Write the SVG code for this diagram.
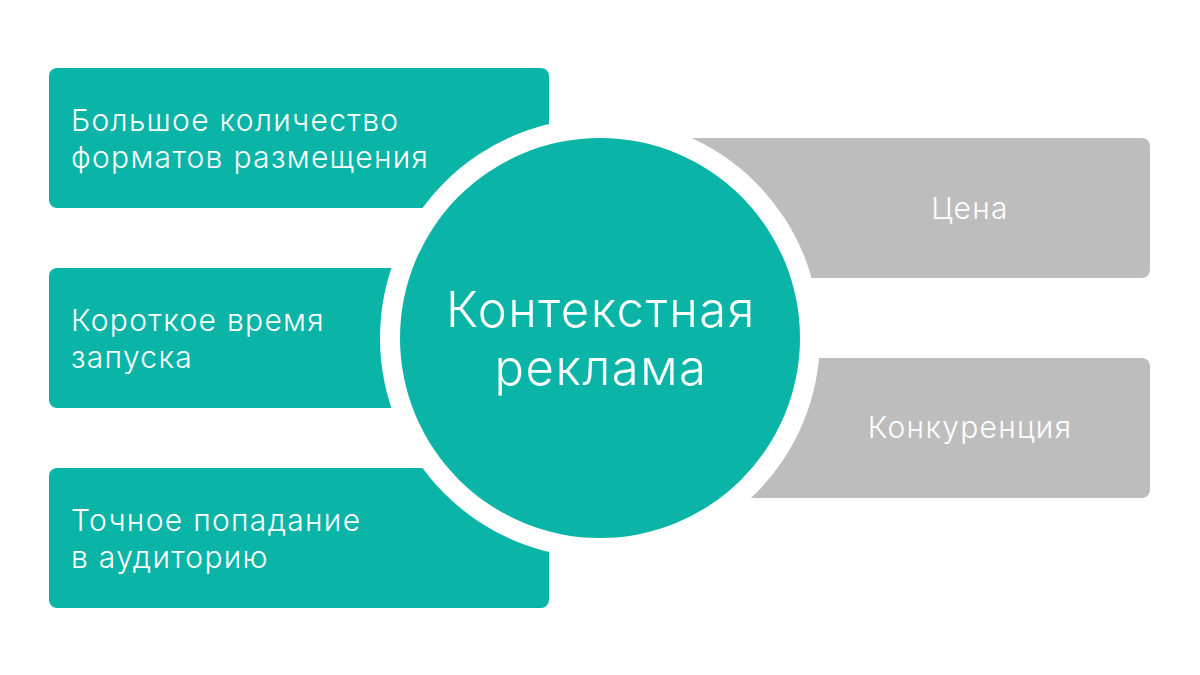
<svg xmlns="http://www.w3.org/2000/svg" width="1200" height="675" viewBox="0 0 1200 675">
  <style>
    .pro { fill: #0AB4A7; }
    .con { fill: #BDBDBD; }
    .lbl { font-family: Inter, "Open Sans", "Liberation Sans", sans-serif; font-weight: 300; font-size: 30px; letter-spacing: 1.3px; fill: #FFFFFF; }
    .ctr { font-family: Inter, "Open Sans", "Liberation Sans", sans-serif; font-weight: 300; font-size: 49px; letter-spacing: 1.5px; fill: #FFFFFF; text-anchor: middle; }
  </style>
  <rect width="1200" height="675" fill="#FFFFFF"/>
  <g id="node-formats">
    <rect class="pro" x="49" y="68" width="500" height="140" rx="8"/>
    <text class="lbl" x="71" y="131">Большое количество</text>
    <text class="lbl" x="71" y="168">форматов размещения</text>
  </g>
  <g id="node-launch">
    <rect class="pro" x="49" y="268" width="500" height="140" rx="8"/>
    <text class="lbl" x="71" y="331">Короткое время</text>
    <text class="lbl" x="71" y="368">запуска</text>
  </g>
  <g id="node-targeting">
    <rect class="pro" x="49" y="468" width="500" height="140" rx="8"/>
    <text class="lbl" x="71" y="531">Точное попадание</text>
    <text class="lbl" x="71" y="568">в аудиторию</text>
  </g>
  <g id="node-price">
    <rect class="con" x="650" y="138" width="500" height="140" rx="8"/>
    <text class="lbl" x="970" y="219" text-anchor="middle">Цена</text>
  </g>
  <g id="node-competition">
    <rect class="con" x="650" y="358" width="500" height="140" rx="8"/>
    <text class="lbl" x="970" y="438" text-anchor="middle">Конкуренция</text>
  </g>
  <g id="connectors"></g>
  <g id="node-center">
    <circle cx="600" cy="338" r="220" fill="#FFFFFF"/>
    <circle class="pro" cx="600" cy="338" r="200"/>
    <text class="ctr" x="601" y="327">Контекстная</text>
    <text class="ctr" x="601" y="385">реклама</text>
  </g>
</svg>
